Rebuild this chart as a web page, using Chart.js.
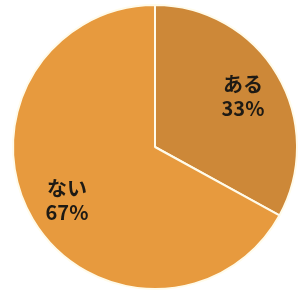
<!DOCTYPE html>
<html>
<head>
<meta charset="utf-8">
<script src="https://cdn.jsdelivr.net/npm/chart.js@4"></script>
<style>
  html, body { margin: 0; padding: 0; background: #fff; }
  #wrap { width: 298px; height: 295px; }
</style>
</head>
<body>
<div id="wrap"><canvas id="c"></canvas></div>
<script>
const labels = ["ある", "ない"];
const values = [33, 67];
const colors = ["#cd8838", "#e79a3e"];

// Draws "label / NN%" inside each slice, roughly at the slice's mid angle.
const sliceLabels = {
  id: "sliceLabels",
  afterDatasetsDraw(chart) {
    const ctx = chart.ctx;
    const meta = chart.getDatasetMeta(0);
    ctx.save();
    ctx.fillStyle = "#1e1a14";
    ctx.textAlign = "center";
    ctx.textBaseline = "middle";
    ctx.font = 'bold 20px "Noto Sans CJK JP", "Noto Sans", sans-serif';
    meta.data.forEach((arc, i) => {
      const { x, y, startAngle, endAngle, outerRadius } = arc.getProps(
        ["x", "y", "startAngle", "endAngle", "outerRadius"], true);
      const mid = (startAngle + endAngle) / 2;
      const r = outerRadius * 0.72;
      const cx = x + Math.cos(mid) * r;
      const cy = y + Math.sin(mid) * r;
      ctx.fillText(labels[i], cx, cy - 11);
      ctx.fillText(values[i] + "%", cx, cy + 13);
    });
    ctx.restore();
  },
};

new Chart(document.getElementById("c"), {
  type: "pie",
  data: {
    labels,
    datasets: [{
      data: values,
      backgroundColor: colors,
      borderColor: "#fffbea",
      borderWidth: 2,
    }],
  },
  options: {
    responsive: true,
    maintainAspectRatio: false,
    animation: false,
    layout: { padding: { left: 12, right: 0, top: 2, bottom: 3 } },
    plugins: { legend: { display: false }, tooltip: { enabled: false } },
  },
  plugins: [sliceLabels],
});
</script>
</body>
</html>
